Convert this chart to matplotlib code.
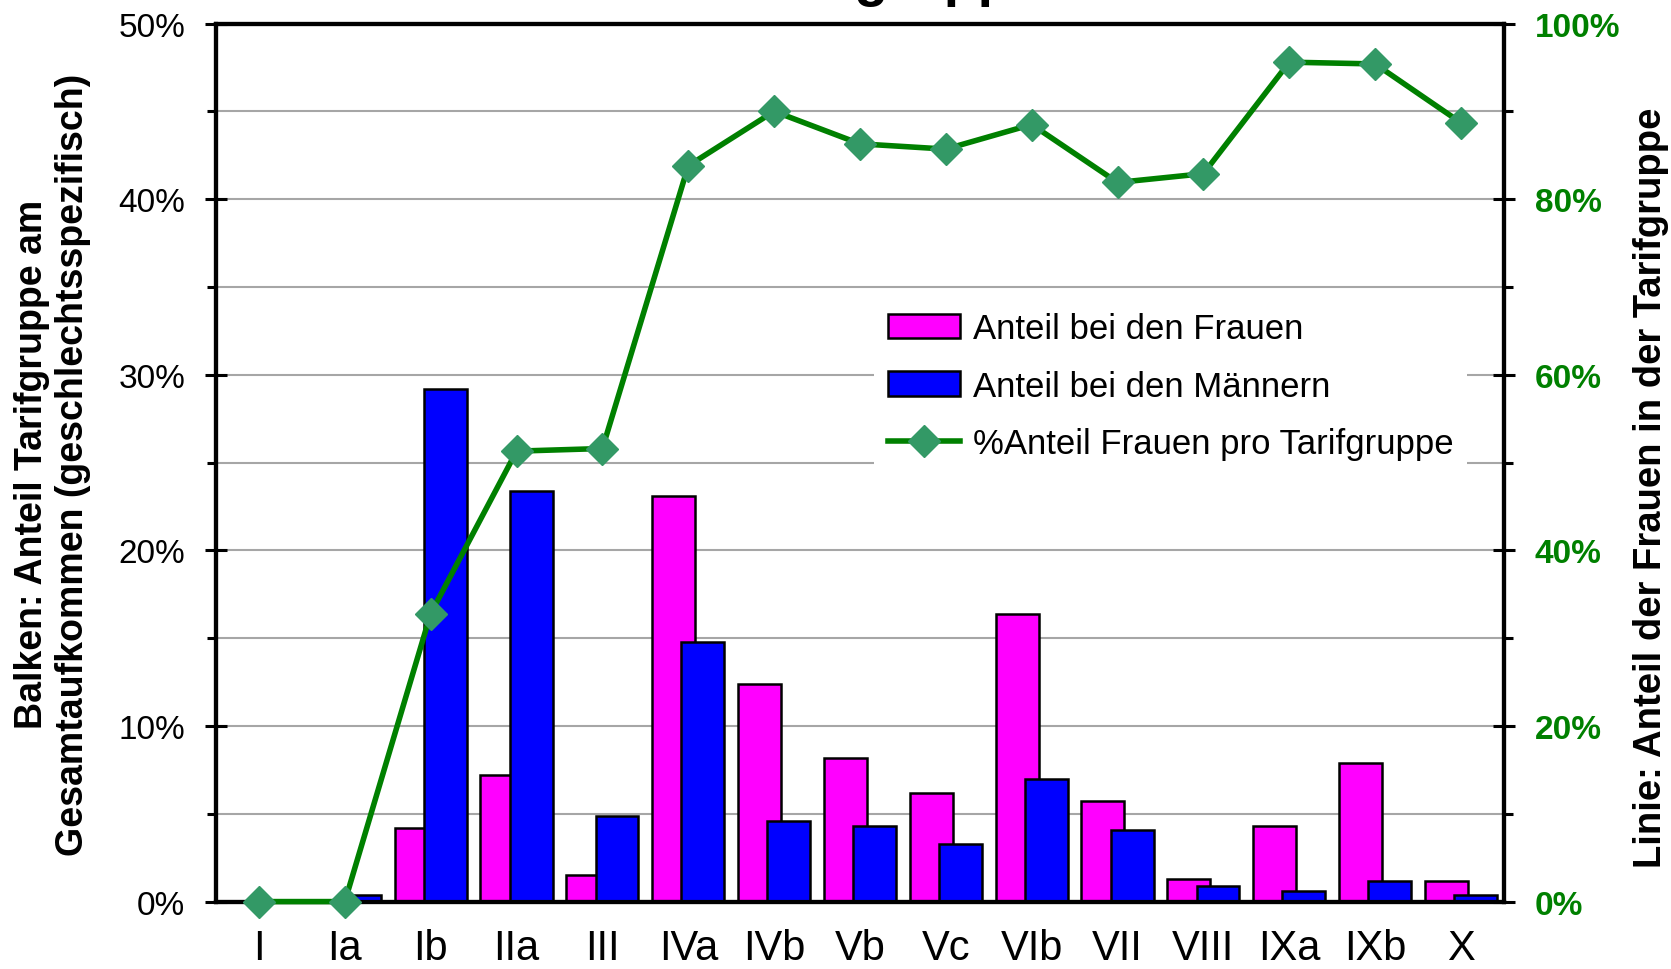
import matplotlib
matplotlib.use("Agg")
import matplotlib.pyplot as plt
import numpy as np
from matplotlib import font_manager
from matplotlib.ticker import MultipleLocator, PercentFormatter

# Tarifgruppen und Werte
gruppen = ["I", "Ia", "Ib", "IIa", "III", "IVa", "IVb", "Vb", "Vc", "VIb", "VII", "VIII", "IXa", "IXb", "X"]
anteil_frauen = [0.0, 0.0, 4.2, 7.2, 1.5, 23.1, 12.4, 8.2, 6.2, 16.4, 5.7, 1.3, 4.3, 7.9, 1.2]
anteil_maenner = [0.0, 0.4, 29.2, 23.4, 4.9, 14.8, 4.6, 4.3, 3.3, 7.0, 4.1, 0.9, 0.6, 1.2, 0.4]
frauen_pro_gruppe = [0.0, 0.0, 32.8, 51.3, 51.6, 83.8, 90.0, 86.3, 85.7, 88.5, 81.9, 82.9, 95.6, 95.4, 88.7]

names = {f.name for f in font_manager.fontManager.ttflist}
base = "Liberation Sans"
narrow = "Liberation Sans Narrow" if "Liberation Sans Narrow" in names else base
plt.rcParams["font.family"] = [base, "DejaVu Sans"]

fig = plt.figure(figsize=(16.71, 9.70), dpi=100)
ax = fig.add_axes([0.1293, 0.0695, 0.7707, 0.9052])

x = np.arange(len(gruppen))
w = 0.5
off = 0.17
b1 = ax.bar(x - off, np.array(anteil_frauen) / 100, w, color="#FF00FF",
            edgecolor="black", linewidth=1.8, zorder=2, label="Anteil bei den Frauen")
b2 = ax.bar(x + off, np.array(anteil_maenner) / 100, w, color="#0000FF",
            edgecolor="black", linewidth=1.8, zorder=3, label="Anteil bei den Männern")

ax.set_xlim(-0.5, len(gruppen) - 0.5)
ax.set_ylim(0, 0.5)
ax.yaxis.set_major_locator(MultipleLocator(0.1))
ax.yaxis.set_minor_locator(MultipleLocator(0.05))
ax.yaxis.set_major_formatter(PercentFormatter(1.0, decimals=0))
ax.grid(which="both", axis="y", color="#a6a6a6", linewidth=1.5, zorder=0)
ax.set_axisbelow(True)
ax.set_xticks(x)
ax.set_xticklabels(gruppen, fontfamily=narrow, fontsize=30)
ax.tick_params(axis="x", length=0, pad=19)
ax.tick_params(axis="y", which="major", direction="inout", length=16.5, width=2.2,
               labelsize=24, pad=14)
ax.tick_params(axis="y", which="minor", direction="out", length=6.5, width=2.2)

# zweite Achse fuer die Linie
ax2 = ax.twinx()
ln, = ax2.plot(x, np.array(frauen_pro_gruppe) / 100, color="#008000", linewidth=4,
               marker="D", markersize=16, markerfacecolor="#339966",
               markeredgecolor="#339966", clip_on=False, zorder=5,
               label="%Anteil Frauen pro Tarifgruppe")
ax2.set_ylim(0, 1)
ax2.yaxis.set_major_locator(MultipleLocator(0.2))
ax2.yaxis.set_minor_locator(MultipleLocator(0.1))
ax2.yaxis.set_major_formatter(PercentFormatter(1.0, decimals=0))
ax2.tick_params(axis="y", which="major", direction="inout", length=16.5, width=2.2,
                labelsize=24, pad=14, labelcolor="#008000")
ax2.tick_params(axis="y", which="minor", direction="out", length=6.5, width=2.2)
for lab in ax2.get_yticklabels():
    lab.set_fontweight("bold")

for a in (ax, ax2):
    for s in a.spines.values():
        s.set_linewidth(3)

leg = ax2.legend(handles=[b1, b2, ln], loc="upper left", bbox_to_anchor=(0.511, 0.687),
                 fontsize=25, frameon=True, facecolor="white", edgecolor="none",
                 framealpha=1, fancybox=False, borderpad=0.4, borderaxespad=0,
                 handlelength=2.07, handletextpad=0.37, labelspacing=0.7)

fig.text(0.0314, 0.521, "Balken: Anteil Tarifgruppe am\nGesamtaufkommen (geschlechtsspezifisch)",
         rotation=90, ha="center", va="center", multialignment="center",
         fontsize=27, fontweight="bold")
fig.text(0.988, 0.497, "Linie: Anteil der Frauen in der Tarifgruppe",
         rotation=90, ha="center", va="center", fontsize=27.5, fontweight="bold")

# Titel ist im Original oben abgeschnitten
fig.text(0.644, 1.005, "Anteile nach Tarifgruppen", ha="right", va="baseline",
         fontsize=40, fontweight="bold")

fig.savefig("out.png", dpi=100)
